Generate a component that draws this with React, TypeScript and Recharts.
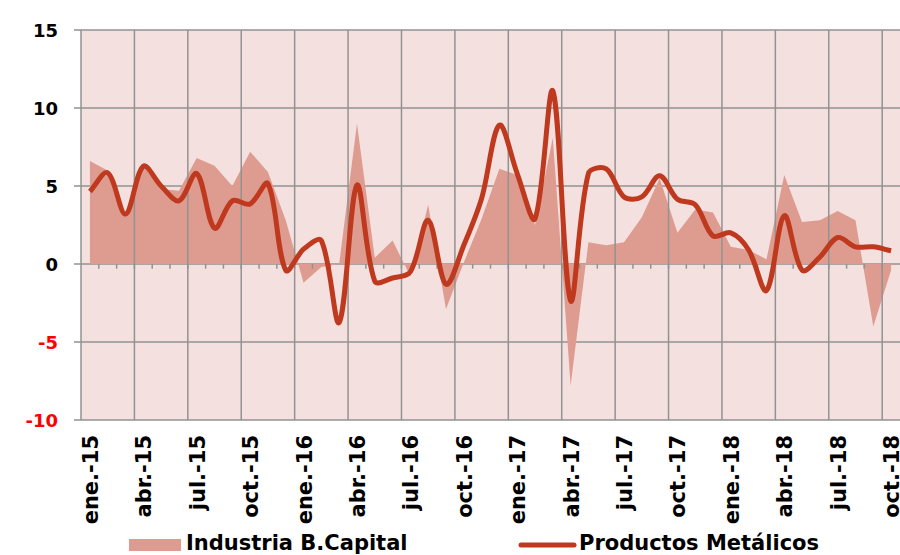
import React from 'react'
import { ComposedChart, Area, Line, XAxis, YAxis, CartesianGrid, ReferenceLine } from 'recharts'

const months = [
  'ene.-15', 'feb.-15', 'mar.-15', 'abr.-15', 'may.-15', 'jun.-15', 'jul.-15', 'ago.-15', 'sep.-15', 'oct.-15', 'nov.-15', 'dic.-15',
  'ene.-16', 'feb.-16', 'mar.-16', 'abr.-16', 'may.-16', 'jun.-16', 'jul.-16', 'ago.-16', 'sep.-16', 'oct.-16', 'nov.-16', 'dic.-16',
  'ene.-17', 'feb.-17', 'mar.-17', 'abr.-17', 'may.-17', 'jun.-17', 'jul.-17', 'ago.-17', 'sep.-17', 'oct.-17', 'nov.-17', 'dic.-17',
  'ene.-18', 'feb.-18', 'mar.-18', 'abr.-18', 'may.-18', 'jun.-18', 'jul.-18', 'ago.-18', 'sep.-18', 'oct.-18',
]

// Industria B.Capital (area)
const industria = [
  6.6, 6.0, 3.2, 6.3, 4.8, 4.7, 6.8, 6.3, 5.0, 7.2, 5.9, 2.8,
  -1.2, -0.2, 0.0, 9.0, 0.4, 1.5, -0.8, 3.8, -2.9, 0.1, 2.9, 6.1,
  5.7, 2.5, 8.1, -7.8, 1.4, 1.2, 1.4, 3.0, 5.5, 2.0, 3.5, 3.3,
  1.1, 0.9, 0.3, 5.7, 2.7, 2.8, 3.4, 2.8, -4.0, -0.4,
]

// Productos Metálicos (smoothed line)
const productos = [
  4.65, 5.85, 3.2, 6.27, 5.0, 4.05, 5.8, 2.3, 4.05, 3.85, 5.15, -0.4,
  0.95, 1.5, -3.75, 5.05, -1.1, -0.9, -0.5, 2.8, -1.3, 1.2, 4.2, 8.9,
  5.8, 2.9, 11.1, -2.35, 5.8, 6.1, 4.3, 4.3, 5.65, 4.15, 3.8, 1.8,
  2.0, 0.9, -1.7, 3.1, -0.4, 0.45, 1.7, 1.1, 1.1, 0.85,
]

const yTicks = [-10, -5, 0, 5, 10, 15]

const data = months.map((month, i) => ({ month, industria: industria[i], productos: productos[i] }))

const FONT = '"DejaVu Sans", Verdana, sans-serif'
const AREA = '#DE9C90'
const LINE = '#BF391E'
const GRID = '#929292'
const BG = '#F4E1DF'

// Excel-like smoothing: Catmull-Rom beziers with control arms scaled by segment length
function excelSmooth(context: any) {
  let pts: [number, number][] = []
  const dist = (a: [number, number], b: [number, number]) => Math.hypot(b[0] - a[0], b[1] - a[1])
  return {
    areaStart() {},
    areaEnd() {},
    lineStart() { pts = [] },
    point(x: number, y: number) { pts.push([+x, +y]) },
    lineEnd() {
      const n = pts.length
      if (!n) return
      context.moveTo(pts[0][0], pts[0][1])
      for (let i = 0; i < n - 1; i++) {
        const p0 = pts[i - 1] ?? pts[i]
        const p1 = pts[i]
        const p2 = pts[i + 1]
        const p3 = pts[i + 2] ?? p2
        const d01 = dist(p0, p1)
        const d12 = dist(p1, p2)
        const d23 = dist(p2, p3)
        const k1 = d01 + d12 > 0 ? d12 / (d01 + d12) / 3 : 0
        const k2 = d12 + d23 > 0 ? d12 / (d12 + d23) / 3 : 0
        context.bezierCurveTo(
          p1[0] + (p2[0] - p0[0]) * k1, p1[1] + (p2[1] - p0[1]) * k1,
          p2[0] - (p3[0] - p1[0]) * k2, p2[1] - (p3[1] - p1[1]) * k2,
          p2[0], p2[1],
        )
      }
    },
  }
}

const YTick = ({ x, y, payload }: any) => (
  <text x={x - 14} y={y} dy={6.5} textAnchor="end" fontFamily={FONT} fontWeight="bold" fontSize={18}
    fill={payload.value < 0 ? '#FF0000' : '#000'}>
    {payload.value}
  </text>
)

const XTick = ({ x, y, payload }: any) => (
  <text transform={`translate(${x + 8},${y + 7}) rotate(-90)`} textAnchor="end" fontFamily={FONT}
    fontWeight="bold" fontSize={21} fill="#000">
    {payload.value}
  </text>
)

export default function App() {
  return (
    <div style={{ position: 'absolute', left: 0, top: 0, width: 900, height: 555, background: '#fff' }}>
      <ComposedChart width={900} height={555} data={data} margin={{ top: 30, right: 0, bottom: 0, left: 0 }}>
        <CartesianGrid fill={BG} stroke={GRID} strokeWidth={1.5} vertical={false} />
        <XAxis
          dataKey="month"
          scale="band"
          interval={2}
          height={135}
          axisLine={false}
          tickLine={false}
          tick={<XTick />}
        />
        <YAxis
          domain={[-10, 15]}
          ticks={yTicks}
          width={81}
          interval={0}
          axisLine={{ stroke: GRID, strokeWidth: 1.5 }}
          tickLine={{ stroke: GRID, strokeWidth: 1.5 }}
          tickSize={7}
          tick={<YTick />}
        />
        {months.filter((_, i) => i % 3 === 0 && i > 0).map(m => (
          <ReferenceLine key={'g' + m} x={m} position="start" stroke={GRID} strokeWidth={1.5} />
        ))}
        <Area dataKey="industria" type="linear" baseValue={0} fill={AREA} fillOpacity={1} stroke="none" isAnimationActive={false} />
        {months.slice(1).map(m => (
          <ReferenceLine key={m} segment={[{ x: m, y: 0 }, { x: m, y: -0.3 }]} position="start"
            stroke={GRID} strokeWidth={1.5} />
        ))}
        <Line dataKey="productos" type={excelSmooth as any} stroke={LINE} strokeWidth={5} dot={false}
          activeDot={false} isAnimationActive={false} />
      </ComposedChart>
      <svg width={900} height={555} style={{ position: 'absolute', left: 0, top: 0, pointerEvents: 'none' }}>
        <rect x={129} y={539} width={52} height={12} fill={AREA} />
        <text x={186} y={550} fontFamily={FONT} fontWeight="bold" fontSize={21} fill="#000">Industria B.Capital</text>
        <line x1={521} y1={545} x2={574} y2={545} stroke={LINE} strokeWidth={5} strokeLinecap="round" />
        <text x={579} y={550} fontFamily={FONT} fontWeight="bold" fontSize={21} fill="#000">Productos Metálicos</text>
      </svg>
    </div>
  )
}
